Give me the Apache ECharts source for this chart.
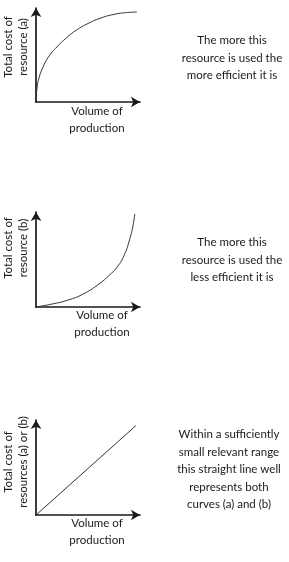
<!DOCTYPE html>
<html>
<head>
<meta charset="utf-8">
<script src="https://cdn.jsdelivr.net/npm/echarts@6/dist/echarts.min.js"></script>
<style>
  html, body { margin: 0; padding: 0; background: #fff; }
  #main { width: 289px; height: 562px; }
</style>
</head>
<body>
<div id="main"></div>
<script>
// curve (a): cost rises fast then flattens
const curveA = [[0, 0], [1, 15], [3, 26], [6.7, 37], [12, 48], [20, 58.5], [29, 68], [39, 76.6], [50, 83.5], [61.5, 89], [74, 93], [86, 95], [97, 95.7]];
// curve (b): cost rises slowly then shoots up
const curveB = [[0, 0], [15, 3], [30, 7], [46, 14], [61.5, 25], [70, 33], [78, 42], [85, 55], [90, 71], [93, 84], [95, 98]];
// straight line approximation
const lineC = [[0, 0], [96, 94]];

const yNames = [['Total cost of', 'resource (a)'], ['Total cost of', 'resource (b)'], ['Total cost of', 'resources (a) or (b)']];
const notes = [
  ['The more this', 'resource is used the', 'more efficient it is'],
  ['The more this', 'resource is used the', 'less efficient it is'],
  ['Within a sufficiently', 'small relevant range', 'this straight line well', 'represents both', 'curves (a) and (b)']
];

const font = 'Lato, "Open Sans", sans-serif';
const ink = '#1a1a1a';

let chart = echarts.init(document.getElementById('main'));

const grids = [
  { left: 36, top: 8, width: 104, height: 94 },
  { left: 36, top: 212, width: 104, height: 95 },
  { left: 36, top: 420, width: 104, height: 95 }
];

function axis(i) {
  return {
    type: 'value', gridIndex: i, min: 0, max: 100,
    splitLine: { show: false }, axisTick: { show: false }, axisLabel: { show: false },
    axisLine: { show: true, lineStyle: { color: ink, width: 1.7 }, symbol: ['none', 'arrow'], symbolSize: [8, 9] }
  };
}

let graphic = [];
// y axis titles (rotated), x axis titles, notes on the right
const yTitleY = [47, 248, 462];
yNames.forEach((n, i) => {
  graphic.push({
    type: 'text', x: 16, y: yTitleY[i], rotation: Math.PI / 2,
    style: { text: n.join('\n'), font: '11.5px ' + font, fill: ink, align: 'center', verticalAlign: 'middle', lineHeight: 15.5 }
  });
});
const xTitle = [[97, 120], [102, 324], [97, 532]];
xTitle.forEach(p => {
  graphic.push({
    type: 'text', x: p[0], y: p[1],
    style: { text: 'Volume of\nproduction', font: '11.5px ' + font, fill: ink, align: 'center', verticalAlign: 'middle', lineHeight: 17 }
  });
});
const noteTop = [[232, 40], [232, 242], [229, 434]];
notes.forEach((n, i) => {
  graphic.push({
    type: 'text', x: noteTop[i][0], y: noteTop[i][1] - 8,
    style: { text: n.join('\n'), font: '11.5px ' + font, fill: ink, align: 'center', verticalAlign: 'top', lineHeight: 17.5 }
  });
});

let option = {
  backgroundColor: '#fff',
  animation: false,
  grid: grids,
  xAxis: [axis(0), axis(1), axis(2)],
  yAxis: [axis(0), axis(1), axis(2)],
  graphic: graphic,
  series: [
    { type: 'line', xAxisIndex: 0, yAxisIndex: 0, data: curveA, smooth: true, showSymbol: false, lineStyle: { color: '#333', width: 1 } },
    { type: 'line', xAxisIndex: 1, yAxisIndex: 1, data: curveB, smooth: true, showSymbol: false, lineStyle: { color: '#333', width: 1 } },
    { type: 'line', xAxisIndex: 2, yAxisIndex: 2, data: lineC, showSymbol: false, lineStyle: { color: '#333', width: 1 } }
  ]
};
chart.setOption(option);
</script>
</body>
</html>
